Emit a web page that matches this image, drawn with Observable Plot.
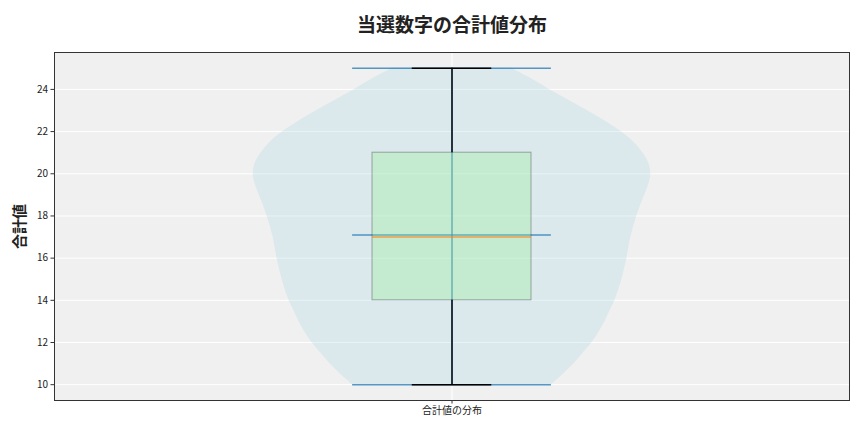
<!DOCTYPE html>
<html>
<head>
<meta charset="utf-8">
<script src="https://cdn.jsdelivr.net/npm/d3@7"></script>
<script src="https://cdn.jsdelivr.net/npm/@observablehq/plot@0.6"></script>
<style>
  body { margin: 0; background: #ffffff; }
  #chart svg { display: block; }
</style>
</head>
<body>
<div id="chart"></div>
<script>
// ---- data ----
const title = "当選数字の合計値分布";
const yLabel = "合計値";
const category = "合計値の分布";
const yTicks = [10, 12, 14, 16, 18, 20, 22, 24];

// violin outline: sum values and relative density (1 = widest)
const violinY = [10, 10.5, 11, 11.5, 12, 12.5, 13, 13.5, 14, 15, 16, 17, 18, 19, 19.5, 20, 20.5, 21, 21.5, 22, 22.5, 23, 23.5, 24, 24.5, 25];
const violinDensity = [0.50, 0.56, 0.615, 0.66, 0.705, 0.74, 0.77, 0.795, 0.82, 0.855, 0.88, 0.90, 0.93, 0.97, 0.99, 1.00, 0.99, 0.96, 0.915, 0.85, 0.77, 0.68, 0.585, 0.49, 0.40, 0.30];

// summary statistics
const statMin = 10;
const statQ1 = 14;
const statMedian = 17;
const statMean = 17.1;
const statQ3 = 21;
const statMax = 25;

// ---- layout constants ----
const pos = 1;
const violinHalf = 0.25;
const boxHalf = 0.1;
const capHalf = 0.05;
const extremaHalf = 0.125;

const violinPts = violinY.map((y, i) => ({y, w: violinDensity[i] * violinHalf}));
const blue = "#1f77b4";

const chart = Plot.plot({
  width: 864,
  height: 432,
  marginLeft: 54,
  marginRight: 15,
  marginTop: 52,
  marginBottom: 32,
  style: {fontFamily: "'Noto Sans CJK JP', 'Noto Sans', sans-serif", background: "#ffffff", color: "#222"},
  x: {domain: [0.5, 1.5], axis: null},
  y: {domain: [9.25, 25.75], axis: null},
  marks: [
    Plot.frame({fill: "#f0f0f0"}),
    Plot.gridY(yTicks, {stroke: "#ffffff", strokeOpacity: 1, strokeWidth: 1}),
    Plot.gridX([pos], {stroke: "#ffffff", strokeOpacity: 1, strokeWidth: 1}),
    // violin body
    Plot.areaX(violinPts, {y: "y", x1: d => pos - d.w, x2: d => pos + d.w, fill: "lightblue", fillOpacity: 0.3, curve: "catmull-rom"}),
    // violin bars
    Plot.ruleX([pos], {y1: statMin, y2: statMax, stroke: blue, strokeOpacity: 0.75, strokeWidth: 1.5}),
    Plot.ruleY([statMin, statMax, statMean], {x1: pos - extremaHalf, x2: pos + extremaHalf, stroke: blue, strokeOpacity: 0.75, strokeWidth: 1.6}),
    // box
    Plot.rect([0], {x1: pos - boxHalf, x2: pos + boxHalf, y1: statQ1, y2: statQ3, fill: "lightgreen", fillOpacity: 0.3, stroke: "black", strokeOpacity: 0.3, strokeWidth: 1}),
    // whiskers
    Plot.ruleX([pos], {y1: statQ3, y2: statMax, stroke: "black", strokeWidth: 1.4}),
    Plot.ruleX([pos], {y1: statMin, y2: statQ1, stroke: "black", strokeWidth: 1.4}),
    Plot.ruleY([statMin, statMax], {x1: pos - capHalf, x2: pos + capHalf, stroke: "black", strokeWidth: 1.4}),
    // median
    Plot.ruleY([statMedian], {x1: pos - boxHalf, x2: pos + boxHalf, stroke: "#ff7f0e", strokeOpacity: 0.7, strokeWidth: 1.5}),
    // axes
    Plot.axisY(yTicks, {tickSize: 3.5, tickPadding: 3, fontSize: 10, label: null, stroke: "#333"}),
    Plot.axisX([pos], {tickSize: 3.5, tickPadding: 3, fontSize: 10, label: null, tickFormat: () => category, stroke: "#333"}),
    Plot.frame({stroke: "#333", strokeWidth: 1}),
    // title and y label
    Plot.text([title], {frameAnchor: "top", dy: -27, lineAnchor: "middle", textAnchor: "middle", fontSize: 19, fontWeight: "bold", fill: "#222"}),
    Plot.text([yLabel], {frameAnchor: "left", dx: -34, rotate: -90, lineAnchor: "middle", textAnchor: "middle", fontSize: 15, fontWeight: "bold", fill: "#222"})
  ]
});

document.getElementById("chart").appendChild(chart);
</script>
</body>
</html>
